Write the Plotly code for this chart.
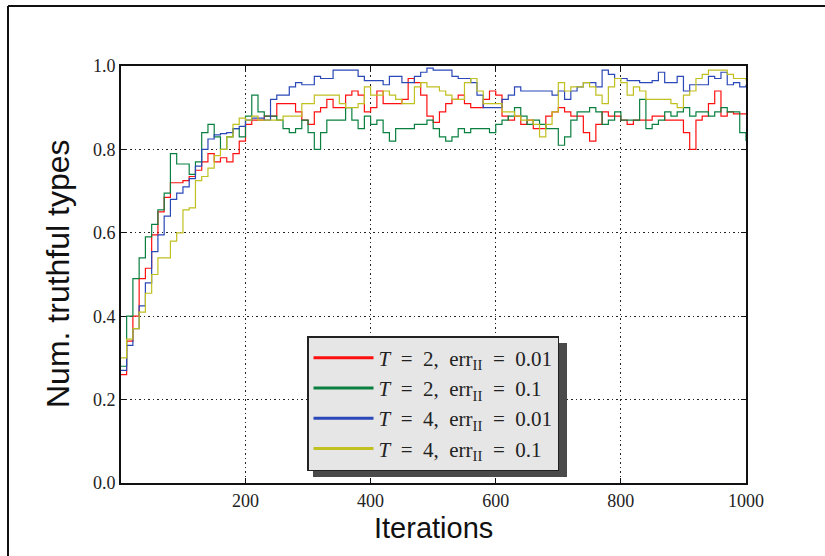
import plotly.graph_objects as go

iterations = list(range(0, 1001, 10))

red_T2_e001 = [0.26, 0.34, 0.40, 0.49, 0.515, 0.595, 0.65, 0.685, 0.72, 0.72, 0.725, 0.735, 0.75, 0.77, 0.79, 0.77, 0.78, 0.77, 0.79, 0.82,
               0.86, 0.87, 0.87, 0.88, 0.88, 0.91, 0.91, 0.91, 0.89, 0.87, 0.86, 0.89, 0.90, 0.92, 0.90, 0.90, 0.93, 0.94, 0.93, 0.89,
               0.90, 0.94, 0.91, 0.91, 0.91, 0.92, 0.97, 0.96, 0.93, 0.88, 0.865, 0.89, 0.91, 0.92, 0.93, 0.91, 0.90, 0.90, 0.92, 0.94, 0.93,
               0.88, 0.87, 0.88, 0.86, 0.87, 0.85, 0.85, 0.88, 0.89, 0.90, 0.89, 0.88, 0.88, 0.84, 0.82, 0.86, 0.89, 0.88, 0.88,
               0.87, 0.86, 0.87, 0.87, 0.87, 0.88, 0.88, 0.87, 0.87, 0.87, 0.84, 0.80, 0.87, 0.88, 0.91, 0.94, 0.88, 0.89, 0.885, 0.885, 0.885]

green_T2_e01 = [0.28, 0.40, 0.49, 0.54, 0.59, 0.62, 0.655, 0.695, 0.79, 0.765, 0.765, 0.74, 0.77, 0.84, 0.86, 0.83, 0.80, 0.83, 0.85, 0.83,
                0.88, 0.93, 0.89, 0.88, 0.88, 0.87, 0.85, 0.84, 0.85, 0.87, 0.84, 0.80, 0.84, 0.87, 0.87, 0.87, 0.90, 0.87, 0.85, 0.88,
                0.86, 0.87, 0.84, 0.82, 0.85, 0.85, 0.85, 0.86, 0.86, 0.87, 0.85, 0.83, 0.82, 0.83, 0.85, 0.84, 0.85, 0.85, 0.85, 0.84, 0.86,
                0.87, 0.88, 0.90, 0.88, 0.86, 0.87, 0.86, 0.85, 0.85, 0.81, 0.83, 0.87, 0.89, 0.89, 0.90, 0.89, 0.86, 0.87, 0.89,
                0.87, 0.87, 0.87, 0.92, 0.85, 0.86, 0.87, 0.89, 0.88, 0.89, 0.90, 0.88, 0.89, 0.89, 0.88, 0.89, 0.90, 0.89, 0.89, 0.84, 0.82]

blue_T4_e001 = [0.27, 0.33, 0.37, 0.425, 0.48, 0.555, 0.595, 0.64, 0.68, 0.695, 0.71, 0.73, 0.76, 0.80, 0.825, 0.835, 0.838, 0.84, 0.85, 0.855,
                0.87, 0.875, 0.875, 0.87, 0.92, 0.93, 0.93, 0.95, 0.96, 0.955, 0.955, 0.975, 0.97, 0.97, 0.99, 0.99, 0.99, 0.99, 0.975, 0.965,
                0.965, 0.965, 0.955, 0.975, 0.975, 0.96, 0.96, 0.975, 0.985, 0.995, 0.99, 0.99, 0.99, 0.975, 0.97, 0.97, 0.96, 0.93, 0.90, 0.90, 0.90,
                0.92, 0.93, 0.95, 0.94, 0.94, 0.94, 0.94, 0.94, 0.93, 0.94, 0.92, 0.94, 0.95, 0.96, 0.96, 0.95, 0.99, 0.98, 0.97,
                0.97, 0.965, 0.965, 0.96, 0.96, 0.965, 0.985, 0.96, 0.96, 0.975, 0.94, 0.955, 0.955, 0.955, 0.975, 0.97, 0.985, 0.955, 0.96, 0.95, 0.955]

yellow_T4_e01 = [0.30, 0.345, 0.37, 0.41, 0.455, 0.50, 0.54, 0.54, 0.58, 0.60, 0.655, 0.66, 0.725, 0.735, 0.755, 0.785, 0.80, 0.83, 0.86, 0.875,
                 0.87, 0.88, 0.87, 0.87, 0.87, 0.87, 0.88, 0.88, 0.88, 0.91, 0.91, 0.93, 0.93, 0.93, 0.93, 0.91, 0.90, 0.90, 0.91, 0.95,
                 0.93, 0.93, 0.94, 0.93, 0.92, 0.91, 0.91, 0.95, 0.96, 0.95, 0.95, 0.94, 0.93, 0.92, 0.92, 0.96, 0.97, 0.94, 0.91, 0.91, 0.91,
                 0.89, 0.89, 0.88, 0.87, 0.87, 0.86, 0.83, 0.86, 0.89, 0.96, 0.94, 0.95, 0.95, 0.96, 0.95, 0.93, 0.91, 0.95, 0.97,
                 0.96, 0.93, 0.95, 0.94, 0.92, 0.92, 0.92, 0.92, 0.91, 0.90, 0.93, 0.94, 0.97, 0.98, 0.99, 0.99, 0.99, 0.98, 0.97, 0.97, 0.965]

EN = "\u2002"
series_names = [
    "<i>T</i>" + EN + "=" + EN + "2," + EN + "err<sub>II</sub>" + EN + "=" + EN + "0.01",
    "<i>T</i>" + EN + "=" + EN + "2," + EN + "err<sub>II</sub>" + EN + "=" + EN + "0.1",
    "<i>T</i>" + EN + "=" + EN + "4," + EN + "err<sub>II</sub>" + EN + "=" + EN + "0.01",
    "<i>T</i>" + EN + "=" + EN + "4," + EN + "err<sub>II</sub>" + EN + "=" + EN + "0.1",
]
series_values = [red_T2_e001, green_T2_e01, blue_T4_e001, yellow_T4_e01]
series_colors = ["#ff1010", "#0a8040", "#2a48b8", "#c0c020"]

x_ticks = [200, 400, 600, 800, 1000]
y_ticks = [0.0, 0.2, 0.4, 0.6, 0.8, 1.0]

fig = go.Figure()
for name, vals, col in zip(series_names, series_values, series_colors):
    fig.add_trace(go.Scatter(x=iterations, y=vals, mode="lines", name=name, legendgroup=name,
                             showlegend=False,
                             line=dict(color=col, width=1.2, shape="hv")))
# legend entries (thicker sample lines as in the original legend)
for name, col in zip(series_names, series_colors):
    fig.add_trace(go.Scatter(x=[None], y=[None], mode="lines", name=name, legendgroup=name,
                             line=dict(color=col, width=3)))

axis_common = dict(showline=True, linecolor="#111", linewidth=2, mirror="ticks",
                   ticks="inside", ticklen=5, tickwidth=1.2, tickcolor="#111",
                   showgrid=True, gridcolor="#222", gridwidth=1, griddash="1.5px,3px",
                   zeroline=False,
                   tickfont=dict(family="Liberation Serif", size=18, color="#222"))

fig.update_xaxes(range=[1, 1000], tickvals=x_ticks, ticktext=[str(t) for t in x_ticks], **axis_common)
fig.update_yaxes(range=[0, 1], tickvals=y_ticks, ticktext=["%.1f" % t for t in y_ticks], **axis_common)

# legend shadow
fig.add_shape(type="rect", xref="paper", yref="paper",
              x0=(313 - 121) / 625, x1=(567 - 121) / 625,
              y0=(483 - 477) / 417, y1=(483 - 343) / 417,
              fillcolor="#4a4a4a", line=dict(width=0), layer="above")

# outer frame
fig.add_shape(type="line", xref="paper", yref="paper",
              x0=(8 - 121) / 625, x1=(830 - 121) / 625, y0=(483 - 6) / 417, y1=(483 - 6) / 417,
              line=dict(color="#111", width=2))
fig.add_shape(type="line", xref="paper", yref="paper",
              x0=(8 - 121) / 625, x1=(8 - 121) / 625, y0=(483 - 6) / 417, y1=(483 - 560) / 417,
              line=dict(color="#111", width=2))

fig.add_annotation(text="Num. truthful types", xref="paper", yref="paper",
                   x=(58 - 121) / 625, y=(483 - 274) / 417, textangle=-90,
                   showarrow=False, xanchor="center", yanchor="middle",
                   font=dict(family="Liberation Sans", size=32, color="#111"))
fig.add_annotation(text="Iterations", xref="paper", yref="paper",
                   x=(433 - 121) / 625, y=(483 - 528) / 417,
                   showarrow=False, xanchor="center", yanchor="middle",
                   font=dict(family="Liberation Sans", size=29, color="#111"))

fig.update_layout(
    width=825, height=556,
    margin=dict(l=121, r=79, t=66, b=73),
    paper_bgcolor="white", plot_bgcolor="white",
    showlegend=True,
    legend=dict(x=(307 - 121) / 625, y=(483 - 336) / 417, xanchor="left", yanchor="top",
                bgcolor="#e6e6e6", bordercolor="#222", borderwidth=1.5,
                font=dict(family="Liberation Serif", size=21, color="#222"),
                itemwidth=60, tracegroupgap=0),
)

fig.write_html("out.html", config={"displayModeBar": False},
               post_script="document.body.style.margin='0px';document.body.style.overflow='hidden';")
